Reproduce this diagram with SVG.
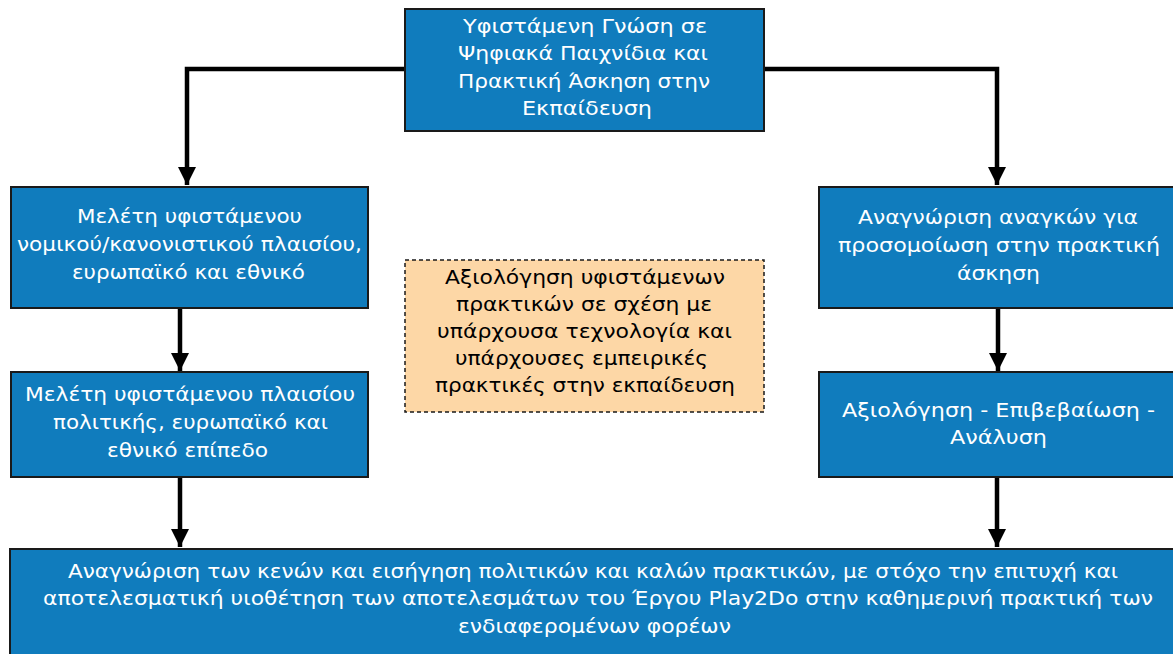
<svg xmlns="http://www.w3.org/2000/svg" width="1173" height="654" viewBox="0 0 1173 654">
<defs>
<style>
.box{fill:#107cbd;stroke:#1a1a1a;stroke-width:2}
.note{fill:#fdd7a6;stroke:#1a1a1a;stroke-width:1.5;stroke-dasharray:4 3}
.t{font-family:"DejaVu Sans",Verdana,sans-serif;font-size:20px;fill:#ffffff;text-anchor:middle}
.tn{font-family:"DejaVu Sans",Verdana,sans-serif;font-size:20px;fill:#000000;text-anchor:middle}
.c{fill:none;stroke:#000;stroke-width:4.5}
</style>
<marker id="ah" viewBox="0 0 10 10" refX="10" refY="5" markerWidth="4" markerHeight="4.5" markerUnits="strokeWidth" orient="auto">
<path d="M0,0 L10,5 L0,10 Z" fill="#000"/>
</marker>
</defs>
<rect width="1173" height="654" fill="#ffffff"/>
<g id="connectors">
<path class="c" d="M405,69 H187 V185" marker-end="url(#ah)"/>
<path class="c" d="M764,69 H997 V185" marker-end="url(#ah)"/>
<path class="c" d="M180,308 V371" marker-end="url(#ah)"/>
<path class="c" d="M998,308 V371" marker-end="url(#ah)"/>
<path class="c" d="M180,477 V547" marker-end="url(#ah)"/>
<path class="c" d="M997,477 V547" marker-end="url(#ah)"/>
</g>
<g id="top">
<rect class="box" x="405" y="9" width="359" height="122"/>
<text class="t" x="585" y="33" textLength="244" lengthAdjust="spacingAndGlyphs">Υφιστάμενη Γνώση σε</text>
<text class="t" x="583" y="60" textLength="250" lengthAdjust="spacingAndGlyphs">Ψηφιακά Παιχνίδια και</text>
<text class="t" x="584" y="88" textLength="252" lengthAdjust="spacingAndGlyphs">Πρακτική Άσκηση στην</text>
<text class="t" x="587" y="115" textLength="130" lengthAdjust="spacingAndGlyphs">Εκπαίδευση</text>
</g>
<g id="left1">
<rect class="box" x="11" y="187" width="357" height="121"/>
<text class="t" x="189.5" y="223" textLength="225" lengthAdjust="spacingAndGlyphs">Μελέτη υφιστάμενου</text>
<text class="t" x="189.5" y="251" textLength="345" lengthAdjust="spacingAndGlyphs">νομικού/κανονιστικού πλαισίου,</text>
<text class="t" x="188.5" y="279" textLength="233" lengthAdjust="spacingAndGlyphs">ευρωπαϊκό και εθνικό</text>
</g>
<g id="left2">
<rect class="box" x="11" y="372" width="357" height="105"/>
<text class="t" x="190" y="401" textLength="330" lengthAdjust="spacingAndGlyphs">Μελέτη υφιστάμενου πλαισίου</text>
<text class="t" x="190.5" y="429" textLength="275" lengthAdjust="spacingAndGlyphs">πολιτικής, ευρωπαϊκό και</text>
<text class="t" x="187.5" y="457" textLength="161" lengthAdjust="spacingAndGlyphs">εθνικό επίπεδο</text>
</g>
<g id="right1">
<rect class="box" x="819" y="187" width="356" height="121"/>
<text class="t" x="998" y="224" textLength="280" lengthAdjust="spacingAndGlyphs">Αναγνώριση αναγκών για</text>
<text class="t" x="999" y="252" textLength="322" lengthAdjust="spacingAndGlyphs">προσομοίωση στην πρακτική</text>
<text class="t" x="998.5" y="280" textLength="83" lengthAdjust="spacingAndGlyphs">άσκηση</text>
</g>
<g id="right2">
<rect class="box" x="819" y="372" width="356" height="105"/>
<text class="t" x="998.5" y="417" textLength="313" lengthAdjust="spacingAndGlyphs">Αξιολόγηση - Επιβεβαίωση -</text>
<text class="t" x="998.5" y="444" textLength="97" lengthAdjust="spacingAndGlyphs">Ανάλυση</text>
</g>
<g id="note">
<rect class="note" x="405" y="260" width="359" height="152"/>
<text class="tn" x="585" y="284" textLength="280" lengthAdjust="spacingAndGlyphs">Αξιολόγηση υφιστάμενων</text>
<text class="tn" x="584" y="311" textLength="256" lengthAdjust="spacingAndGlyphs">πρακτικών σε σχέση με</text>
<text class="tn" x="584.5" y="338" textLength="295" lengthAdjust="spacingAndGlyphs">υπάρχουσα τεχνολογία και</text>
<text class="tn" x="581.5" y="365" textLength="253" lengthAdjust="spacingAndGlyphs">υπάρχουσες εμπειρικές</text>
<text class="tn" x="585" y="392" textLength="300" lengthAdjust="spacingAndGlyphs">πρακτικές στην εκπαίδευση</text>
</g>
<g id="bottom">
<rect class="box" x="10" y="549" width="1165" height="110"/>
<text class="t" x="593" y="578" textLength="1050" lengthAdjust="spacingAndGlyphs">Αναγνώριση των κενών και εισήγηση πολιτικών και καλών πρακτικών, με στόχο την επιτυχή και</text>
<text class="t" x="598" y="605" textLength="1110" lengthAdjust="spacingAndGlyphs">αποτελεσματική υιοθέτηση των αποτελεσμάτων του Έργου Play2Do στην καθημερινή πρακτική των</text>
<text class="t" x="594.5" y="633" textLength="273" lengthAdjust="spacingAndGlyphs">ενδιαφερομένων φορέων</text>
</g>
</svg>
